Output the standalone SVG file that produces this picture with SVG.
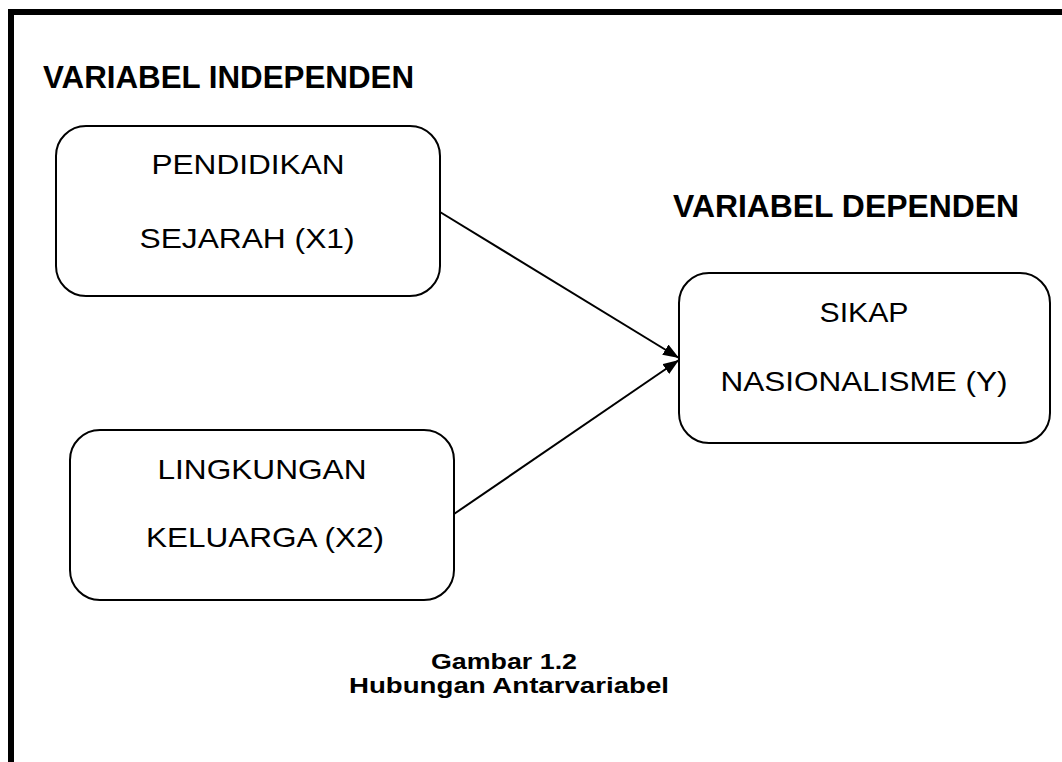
<svg xmlns="http://www.w3.org/2000/svg" width="1062" height="762" viewBox="0 0 1062 762">
<style>
.node{fill:#fff;stroke:#000;stroke-width:2}
.lbl{font-family:"Liberation Sans",Arial,sans-serif;font-size:28px;fill:#000;text-anchor:middle}
.head{font-family:"Liberation Sans",Arial,sans-serif;font-size:31px;font-weight:bold;fill:#000}
.cap{font-family:"Liberation Sans",Arial,sans-serif;font-size:22px;font-weight:bold;fill:#000;text-anchor:middle}
.conn{stroke:#000;stroke-width:2;fill:none;marker-end:url(#arr)}
</style>
<defs>
<marker id="arr" viewBox="0 0 16 12" markerWidth="16" markerHeight="12" refX="16" refY="6" orient="auto" markerUnits="userSpaceOnUse">
<path d="M0,0 L16,6 L0,12 z" fill="#000"/>
</marker>
</defs>
<rect width="1062" height="762" fill="#fff"/>
<g id="frame">
<rect x="8" y="9" width="1054" height="6" fill="#000"/>
<rect x="8" y="9" width="6" height="753" fill="#000"/>
</g>
<text id="title-independen" class="head" x="43" y="88" textLength="371" lengthAdjust="spacingAndGlyphs">VARIABEL INDEPENDEN</text>
<text id="title-dependen" class="head" x="673" y="217" textLength="346" lengthAdjust="spacingAndGlyphs">VARIABEL DEPENDEN</text>
<g id="connectors">
<line class="conn" x1="440" y1="212" x2="679" y2="358"/>
<line class="conn" x1="454" y1="514" x2="679" y2="360"/>
</g>
<g id="node-x1">
<rect class="node" x="56" y="126" width="384" height="170" rx="30" ry="30"/>
<text class="lbl" x="248" y="174" textLength="193" lengthAdjust="spacingAndGlyphs">PENDIDIKAN</text>
<text class="lbl" x="247" y="248" textLength="215" lengthAdjust="spacingAndGlyphs">SEJARAH (X1)</text>
</g>
<g id="node-x2">
<rect class="node" x="70" y="430" width="384" height="170" rx="30" ry="30"/>
<text class="lbl" x="262" y="479" textLength="209" lengthAdjust="spacingAndGlyphs">LINGKUNGAN</text>
<text class="lbl" x="265" y="547" textLength="238" lengthAdjust="spacingAndGlyphs">KELUARGA (X2)</text>
</g>
<g id="node-y">
<rect class="node" x="679" y="273" width="371" height="170" rx="30" ry="30"/>
<text class="lbl" x="864" y="322" textLength="89" lengthAdjust="spacingAndGlyphs">SIKAP</text>
<text class="lbl" x="864" y="391" textLength="287" lengthAdjust="spacingAndGlyphs">NASIONALISME (Y)</text>
</g>
<g id="caption">
<text class="cap" x="504" y="669" textLength="146" lengthAdjust="spacingAndGlyphs">Gambar 1.2</text>
<text class="cap" x="509" y="693" textLength="320" lengthAdjust="spacingAndGlyphs">Hubungan Antarvariabel</text>
</g>
</svg>
